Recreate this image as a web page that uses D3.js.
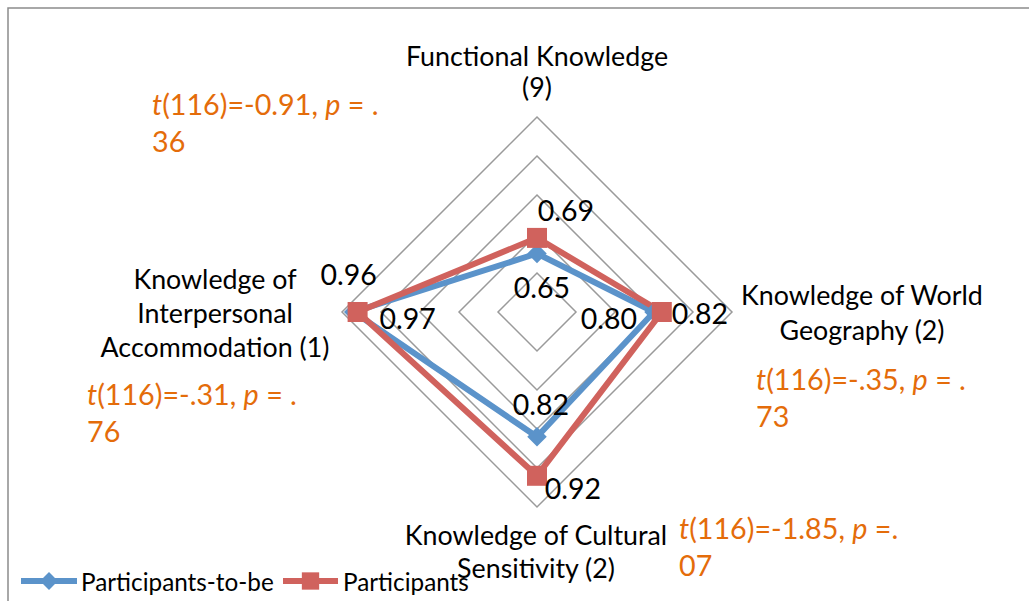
<!DOCTYPE html>
<html>
<head>
<meta charset="utf-8">
<script src="https://cdn.jsdelivr.net/npm/d3@7"></script>
<style>
  html, body { margin: 0; padding: 0; background: #fff; }
  svg { display: block; font-family: "Lato", "Open Sans", sans-serif; }
</style>
</head>
<body>
<div id="viz"></div>
<script>
const width = 1029;
const height = 601;
const center = {x: 537, y: 312};
const outerRadius = 195;

// Data (clockwise from the top axis)
const categories = [
  ['Functional Knowledge', '(9)'],
  ['Knowledge of World', 'Geography (2)'],
  ['Knowledge of Cultural', 'Sensitivity (2)'],
  ['Knowledge of', 'Interpersonal', 'Accommodation (1)']
];
const participantsToBe = [0.65, 0.80, 0.82, 0.97];
const participants = [0.69, 0.82, 0.92, 0.96];
const gridTicks = [0.6, 0.7, 0.8, 0.9, 1.0];
const tStats = ['-0.91', '-.35', '-1.85', '-.31'];
const pEquals = [' = .', ' = .', ' =.', ' = .'];
const pValues = ['36', '73', '07', '76'];

const series = [
  { key: 'Participants-to-be', values: participantsToBe, color: '#5B93CA', marker: 'diamond' },
  { key: 'Participants', values: participants, color: '#D0625D', marker: 'square' }
];

// Layout for labels (positions, not data)
const categoryLayout = [
  { x: 537, y: 66, anchor: 'middle', lh: 31 },
  { x: 862, y: 305, anchor: 'middle', lh: 35 },
  { x: 536, y: 545, anchor: 'middle', lh: 33 },
  { x: 215, y: 289, anchor: 'middle', lh: 34 }
];
const annotationLayout = [
  { x: 152, y: 115 },
  { x: 756, y: 390 },
  { x: 679, y: 539 },
  { x: 87, y: 405 }
];
// label offset from its point: [dx, dy(baseline)]
const labelOffsets = {
  'Participants-to-be': [[5, 44], [-45, 17], [4, -22], [54, 17]],
  'Participants': [[29, -17], [38, 12], [36, 23], [-9, -27]]
};

const scaleR = d3.scaleLinear()
  .domain([0.5, 1.0])
  .range([0, outerRadius]);

const scaleAngle = d3.scaleLinear()
  .domain([0, categories.length])
  .range([0, 2 * Math.PI]);

const toXY = (i, v) => {
  const a = scaleAngle(i);
  return [center.x + scaleR(v) * Math.sin(a), center.y - scaleR(v) * Math.cos(a)];
};

const svg = d3.select('#viz')
  .append('svg')
    .attr('width', width)
    .attr('height', height)
    .attr('viewBox', [0, 0, width, height]);

// chart area border (top and left visible)
svg.append('path')
  .attr('d', `M8,${height} L8,8 L${width},8`)
  .attr('fill', 'none')
  .attr('stroke', '#8c8c8c')
  .attr('stroke-width', 1.5);

const plot = svg.append('g');

// grid rings
const radial = d3.lineRadial()
  .angle((d, i) => scaleAngle(i))
  .radius(d => scaleR(d))
  .curve(d3.curveLinearClosed);

plot.append('g')
  .attr('transform', `translate(${center.x},${center.y})`)
  .selectAll('path')
  .data(gridTicks)
  .join('path')
    .attr('d', t => radial(categories.map(() => t)))
    .attr('fill', 'none')
    .attr('stroke', '#9a9a9a')
    .attr('stroke-width', 1.5);

// series lines
plot.append('g')
  .attr('transform', `translate(${center.x},${center.y})`)
  .selectAll('path')
  .data(series)
  .join('path')
    .attr('d', s => radial(s.values))
    .attr('fill', 'none')
    .attr('stroke', s => s.color)
    .attr('stroke-width', 6)
    .attr('stroke-linejoin', 'miter');

const symbolFor = s => s.marker === 'square'
  ? d3.symbol(d3.symbolSquare, 400)()
  : d3.symbol(d3.symbolSquare, 190)();
const rotFor = s => s.marker === 'square' ? 0 : 45;

// markers
series.forEach(s => {
  plot.append('g')
    .selectAll('path')
    .data(s.values)
    .join('path')
      .attr('d', symbolFor(s))
      .attr('transform', (v, i) => {
        const [x, y] = toXY(i, v);
        return `translate(${x},${y}) rotate(${rotFor(s)})`;
      })
      .attr('fill', s.color);
});

// data labels
series.forEach(s => {
  plot.append('g')
    .selectAll('text')
    .data(s.values)
    .join('text')
      .attr('x', (v, i) => toXY(i, v)[0] + labelOffsets[s.key][i][0])
      .attr('y', (v, i) => toXY(i, v)[1] + labelOffsets[s.key][i][1])
      .attr('text-anchor', 'middle')
      .attr('font-size', 28.5)
      .attr('fill', '#000')
      .text(v => d3.format('.2f')(v));
});

// category labels
const cats = svg.append('g')
  .selectAll('text')
  .data(categories)
  .join('text')
    .attr('x', (d, i) => categoryLayout[i].x)
    .attr('y', (d, i) => categoryLayout[i].y)
    .attr('text-anchor', (d, i) => categoryLayout[i].anchor)
    .attr('font-size', 26.8)
    .attr('fill', '#000');
cats.each(function(lines, i) {
  d3.select(this).selectAll('tspan')
    .data(lines)
    .join('tspan')
      .attr('x', categoryLayout[i].x)
      .attr('dy', (l, j) => j === 0 ? 0 : categoryLayout[i].lh)
      .text(l => l);
});

// t-test annotations
const ann = svg.append('g')
  .selectAll('text')
  .data(tStats)
  .join('text')
    .attr('x', (d, i) => annotationLayout[i].x)
    .attr('y', (d, i) => annotationLayout[i].y)
    .attr('font-size', 28.7)
    .attr('fill', '#E46C0A');
ann.each(function(t, i) {
  const el = d3.select(this);
  const x = annotationLayout[i].x;
  el.append('tspan').attr('font-style', 'italic').text('t');
  el.append('tspan').text(`(116)=${t}, `);
  el.append('tspan').attr('font-style', 'italic').text('p');
  el.append('tspan').text(pEquals[i]);
  el.append('tspan').attr('x', x).attr('dy', 37).text(pValues[i]);
});

// legend
const legendLayout = [
  { x1: 21, x2: 77, tx: 81 },
  { x1: 283, x2: 338, tx: 343 }
];
const legendY = 581;
const legend = svg.append('g')
  .selectAll('g')
  .data(series)
  .join('g');
legend.append('line')
  .attr('x1', (d, i) => legendLayout[i].x1)
  .attr('x2', (d, i) => legendLayout[i].x2)
  .attr('y1', legendY)
  .attr('y2', legendY)
  .attr('stroke', d => d.color)
  .attr('stroke-width', 6);
legend.append('path')
  .attr('d', d => d.marker === 'square' ? d3.symbol(d3.symbolSquare, 300)() : d3.symbol(d3.symbolSquare, 160)())
  .attr('transform', (d, i) => `translate(${(legendLayout[i].x1 + legendLayout[i].x2) / 2},${legendY}) rotate(${rotFor(d)})`)
  .attr('fill', d => d.color);
legend.append('text')
  .attr('x', (d, i) => legendLayout[i].tx)
  .attr('y', 591)
  .attr('font-size', 24.3)
  .attr('fill', '#000')
  .text(d => d.key);
</script>
</body>
</html>
